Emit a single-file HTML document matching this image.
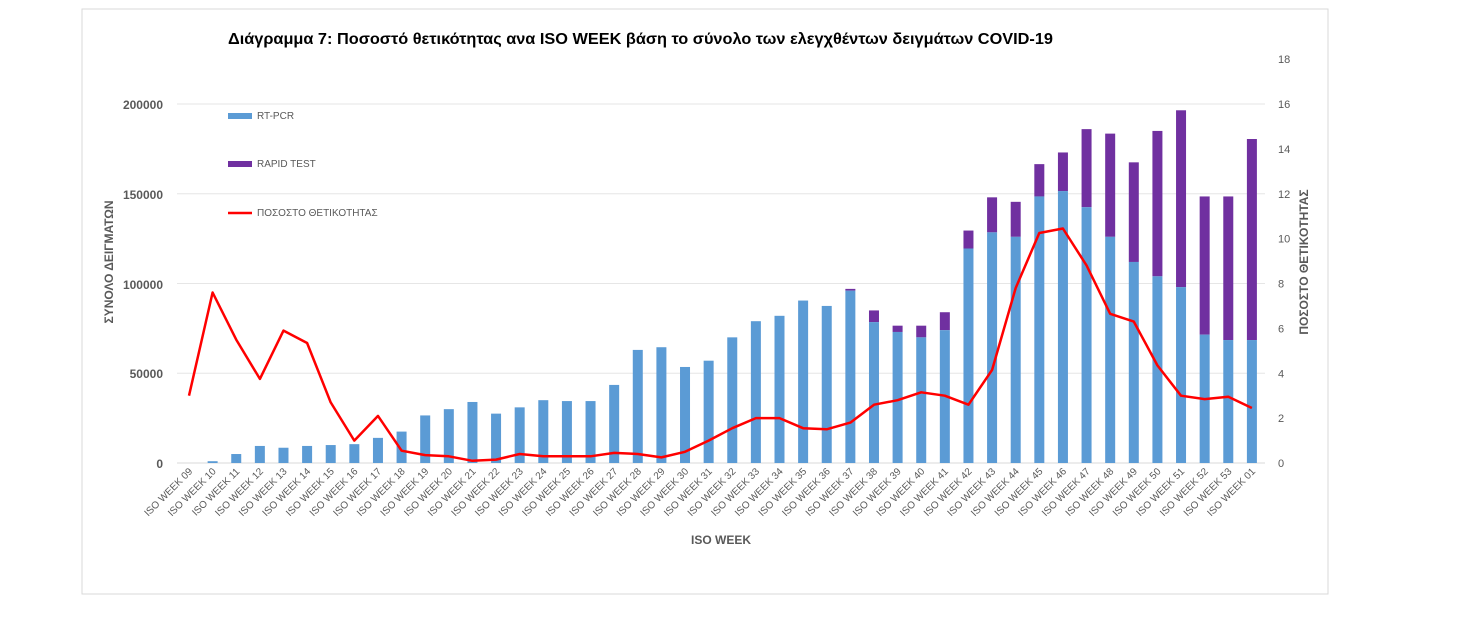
<!DOCTYPE html>
<html><head><meta charset="utf-8"><style>
body{margin:0;background:#fff;}
svg{display:block;font-family:"Liberation Sans",sans-serif;}
</style></head><body>
<svg id="s" width="1466" height="632" xmlns="http://www.w3.org/2000/svg">
<rect x="82" y="9" width="1246" height="585" fill="#fff" stroke="#d9d9d9"/>
<text x="228" y="44" font-size="16" font-weight="bold" fill="#000" textLength="825" lengthAdjust="spacingAndGlyphs">Διάγραμμα 7: Ποσοστό θετικότητας ανα ISO WEEK  βάση το σύνολο των ελεγχθέντων δειγμάτων COVID-19</text>
<g id="grid"></g>
<g id="bars"></g>
<polyline id="line" fill="none" stroke="#ff0000" stroke-width="2.5" stroke-linejoin="round"/>
<g id="lbl" font-size="10" fill="#595959"></g>
<g font-size="12" font-weight="bold" fill="#595959" text-anchor="end">
<text x="163" y="109">200000</text><text x="163" y="199">150000</text><text x="163" y="289">100000</text><text x="163" y="378">50000</text><text x="163" y="468">0</text>
</g>
<g font-size="11" fill="#595959" text-anchor="start" id="r"></g>
<text transform="translate(113,262) rotate(-90)" font-size="12" font-weight="bold" fill="#595959" text-anchor="middle">ΣΥΝΟΛΟ  ΔΕΙΓΜΑΤΩΝ</text>
<text transform="translate(1308,262) rotate(-90)" font-size="12" font-weight="bold" fill="#595959" text-anchor="middle">ΠΟΣΟΣΤΟ ΘΕΤΙΚΟΤΗΤΑΣ</text>
<text x="721" y="544" font-size="12" font-weight="bold" fill="#595959" text-anchor="middle">ISO WEEK</text>
<rect x="228" y="113" width="24" height="6" fill="#5b9bd5"/><text x="257" y="119" font-size="10" fill="#595959">RT-PCR</text>
<rect x="228" y="161" width="24" height="6" fill="#7030a0"/><text x="257" y="167" font-size="10" fill="#595959">RAPID TEST</text>
<line x1="228" y1="213" x2="252" y2="213" stroke="#ff0000" stroke-width="2.5"/><text x="257" y="216" font-size="10" fill="#595959">ΠΟΣΟΣΤΟ ΘΕΤΙΚΟΤΗΤΑΣ</text>
</svg>
<script>
var rt=[0,1000,5000,9500,8500,9500,10000,10500,14000,17500,26500,30000,34000,27500,31000,35000,34500,34500,43500,63000,64500,53500,57000,70000,79000,82000,90500,87500,96000,78500,73000,70000,74000,119500,128500,126000,148500,151500,142500,126000,112000,104000,98000,71500,68500,68500];
var tt=[0,0,0,0,0,0,0,0,0,0,0,0,0,0,0,0,0,0,0,0,0,0,0,0,0,0,0,0,97000,85000,76500,76500,84000,129500,148000,145500,166500,173000,186000,183500,167500,185000,196500,148500,148500,180500];
var pc=[3.0,7.6,5.5,3.75,5.9,5.35,2.7,1.0,2.1,0.55,0.35,0.3,0.1,0.15,0.4,0.3,0.3,0.3,0.45,0.4,0.25,0.5,1.0,1.55,2.0,2.0,1.55,1.5,1.8,2.6,2.8,3.15,3.0,2.6,4.15,7.8,10.25,10.45,8.8,6.65,6.3,4.35,3.0,2.85,2.95,2.45];
var ns="http://www.w3.org/2000/svg";
function el(t,a,p){var e=document.createElementNS(ns,t);for(var k in a)e.setAttribute(k,a[k]);document.getElementById(p).appendChild(e);return e;}
var y0=463,ky=359/200000,kr=359/16,x0=189,dx=23.62;
for(var v=0;v<=200000;v+=50000){el("line",{x1:177,x2:1265,y1:y0-v*ky,y2:y0-v*ky,stroke:v?"#e6e6e6":"#d9d9d9","stroke-width":1},"grid");}
for(var r=0;r<=18;r+=2){var t=el("text",{x:1278,y:y0-r*kr+4},"r");t.textContent=r;}
var names=[];for(var i=9;i<=53;i++)names.push("ISO WEEK "+(i<10?"0":"")+i);names.push("ISO WEEK 01");
var pts=[];
for(var i=0;i<46;i++){var x=x0+i*dx;
 if(tt[i]>rt[i])el("rect",{x:x-5,y:y0-tt[i]*ky,width:10,height:(tt[i]-rt[i])*ky,fill:"#7030a0"},"bars");
 if(rt[i]>0)el("rect",{x:x-5,y:y0-rt[i]*ky,width:10,height:rt[i]*ky,fill:"#5b9bd5"},"bars");
 pts.push(x.toFixed(1)+","+(y0-pc[i]*kr).toFixed(1));
 var t=el("text",{transform:"translate("+(x+4)+",472) rotate(-45)","text-anchor":"end"},"lbl");t.textContent=names[i];}
document.getElementById("line").setAttribute("points",pts.join(" "));
</script>
</body></html>
